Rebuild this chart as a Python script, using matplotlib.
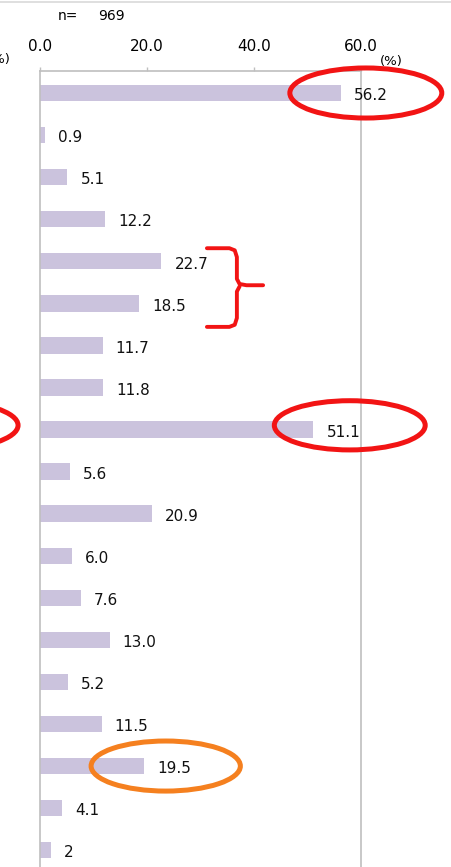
import matplotlib
matplotlib.use("Agg")
import matplotlib.pyplot as plt
from matplotlib.patches import Ellipse
from matplotlib.lines import Line2D
import numpy as np

# share of respondents per item (%), n = 969
values = [56.2, 0.9, 5.1, 12.2, 22.7, 18.5, 11.7, 11.8, 51.1, 5.6,
          20.9, 6.0, 7.6, 13.0, 5.2, 11.5, 19.5, 4.1, 2]
labels = [str(v) if isinstance(v, int) else "{:.1f}".format(v) for v in values]
xticks = [0, 20, 40, 60]
n_total = 969

W, H = 451, 867
fig = plt.figure(figsize=(W / 100, H / 100), dpi=100)
plt.rcParams['font.family'] = ['DejaVu Sans']

# axes: x 0..60 spans px 40..361, top axis line at px 71
ax = fig.add_axes([40 / W, 0, 321 / W, 1 - 71 / H])
pos = np.arange(len(values))
ax.barh(pos, values, height=0.39, color='#CBC3DD')
ax.set_xlim(0, 60)
ax.set_ylim(18.40, -0.523)

grey = '#BFBFBF'
ax.spines['bottom'].set_visible(False)
for s in ['top', 'left', 'right']:
    ax.spines[s].set_color(grey)
    ax.spines[s].set_linewidth(1.2)
ax.xaxis.tick_top()
ax.set_xticks(xticks)
ax.set_xticklabels(["{:.1f}".format(t) for t in xticks], fontsize=11)
ax.tick_params(axis='x', direction='out', length=3, width=1, color=grey, pad=9)
ax.set_yticks([])

for p, v, lab in zip(pos, values, labels):
    ax.annotate(lab, (v, p), xytext=(9.5, -2), textcoords='offset points',
                va='center', ha='left', fontsize=11, color='#111111')

# unit marks and sample size
fig.text(380 / W, 1 - 62 / H, "(%)", fontsize=9.5, va='center', ha='left')
fig.text(11 / W, 1 - 60 / H, "(%)", fontsize=9.5, va='center', ha='right')
fig.text(58 / W, 1 - 16 / H, "n=", fontsize=10, va='center', ha='left')
fig.text(98 / W, 1 - 16 / H, str(n_total), fontsize=10, va='center', ha='left')

# frame line across the top
fig.add_artist(Line2D([0, 1], [1 - 1.5 / H, 1 - 1.5 / H], color='#D9D9D9', lw=1.2,
                      transform=fig.transFigure))

# highlight marks
red = '#F21414'
orange = '#F5801F'
for (cx, cy, w, h, c) in [(60.9, 0.0, 28.4, 1.19, red),
                          (57.9, 7.9, 28.2, 1.17, red),
                          (-18.3, 7.9, 28.4, 1.15, red),
                          (23.5, 16.0, 27.9, 1.19, orange)]:
    ax.add_patch(Ellipse((cx, cy), w, h, fill=False, edgecolor=c, lw=3.6,
                         clip_on=False, zorder=5))

# curly brace grouping rows 4 and 5
bx = [31.2, 35.4, 36.4, 36.8, 36.8, 37.3, 38.6, 41.7]
by = [3.69, 3.69, 3.74, 3.9, 4.42, 4.54, 4.57, 4.57]
ax.plot(bx, by, color=red, lw=2.8, clip_on=False, zorder=5,
        solid_capstyle='round', solid_joinstyle='round')
bx2 = [31.2, 35.4, 36.4, 36.8, 36.8, 37.3]
by2 = [5.56, 5.56, 5.51, 5.35, 4.72, 4.6]
ax.plot(bx2, by2, color=red, lw=2.8, clip_on=False, zorder=5,
        solid_capstyle='round', solid_joinstyle='round')

fig.savefig('out.png', dpi=100)
